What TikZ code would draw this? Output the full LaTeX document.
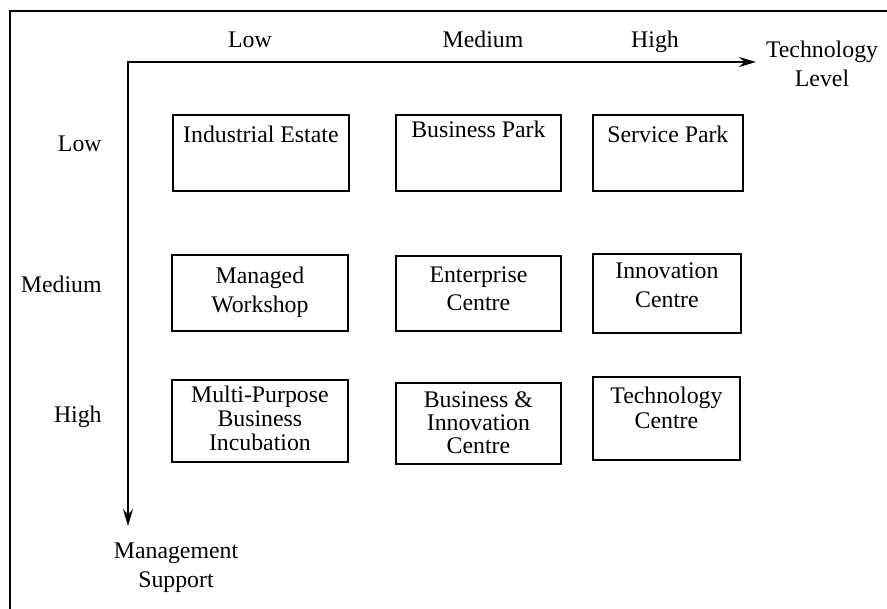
\documentclass[tikz,border=0pt]{standalone}
\usepackage{fontspec}
\setmainfont{Liberation Serif}
\usetikzlibrary{arrows.meta}

\newcommand{\zonetext}[1]{\begin{tabular}[t]{@{}c@{}}#1\end{tabular}}

\begin{document}
\begin{tikzpicture}[x=0.5pt,y=-0.5pt,
	every node/.style={font=\fontsize{11.9}{13}\selectfont, inner sep=0pt},
	zone/.style={draw, line width=0.9pt, anchor=north west},
	axis/.style={line width=1pt, >={Stealth[length=8.5pt,width=5pt]}, <->}]
	\useasboundingbox (0,0) rectangle (887,609);

	% frame
	\draw[line width=1.2pt] (10,609) -- (10,11) -- (887,11);

	% axes
	\coordinate (origin) at (128,62);
	\coordinate (techend) at (756,62);
	\coordinate (mgmtend) at (128,526);
	\draw[axis] (mgmtend) -- (origin) -- (techend);

	% axis labels
	\node[anchor=base] (tlow) at (250,48) {Low};
	\node[anchor=base] (tmed) at (483,48) {Medium};
	\node[anchor=base] (thigh) at (655,48) {High};
	\node[anchor=base, align=center] (techlbl) at (822,87) {Technology\\[1.5pt] Level};
	\node[anchor=base east] (slow) at (102,152) {Low};
	\node[anchor=base east] (smed) at (102,292) {Medium};
	\node[anchor=base east] (shigh) at (102,422) {High};
	\node[anchor=base, align=center] (mgmtlbl) at (176,587) {Management\\[1.5pt] Support};

	% boxes
	\node[zone, minimum width=88pt, text height=13.8pt, text depth=24.2pt] (ind) at (172,114) {Industrial Estate};
	\node[zone, minimum width=82.5pt, text height=11.5pt, text depth=26.5pt] (bpark) at (395,114) {Business Park};
	\node[zone, minimum width=75pt, text height=14pt, text depth=24pt] (spark) at (592,114) {Service Park};

	\node[zone, minimum width=88pt, text height=14.5pt, text depth=23.5pt] (mws) at (171,254) {\zonetext{Managed\\[1.5pt] Workshop}};
	\node[zone, minimum width=82.5pt, text height=13.3pt, text depth=24.2pt] (ent) at (395,255) {\zonetext{Enterprise\\[1pt] Centre}};
	\node[zone, minimum width=74pt, text height=12.5pt, text depth=27pt] (inn) at (592,253) {\zonetext{Innovation\\[1.3pt] Centre}};

	\node[zone, minimum width=88pt, text height=11.5pt, text depth=29.5pt] (mpbi) at (171,379) {\zonetext{Multi-Purpose\\[-1.2pt] Business\\[-1.2pt] Incubation}};
	\node[zone, minimum width=82.5pt, text height=12.5pt, text depth=28pt] (bic) at (395,382) {\zonetext{Business \&\\[-1.5pt] Innovation\\[-1.5pt] Centre}};
	\node[zone, minimum width=73.5pt, text height=13.5pt, text depth=28pt] (tech) at (592,376) {\zonetext{Technology\\[-0.5pt] Centre}};
\end{tikzpicture}
\end{document}
